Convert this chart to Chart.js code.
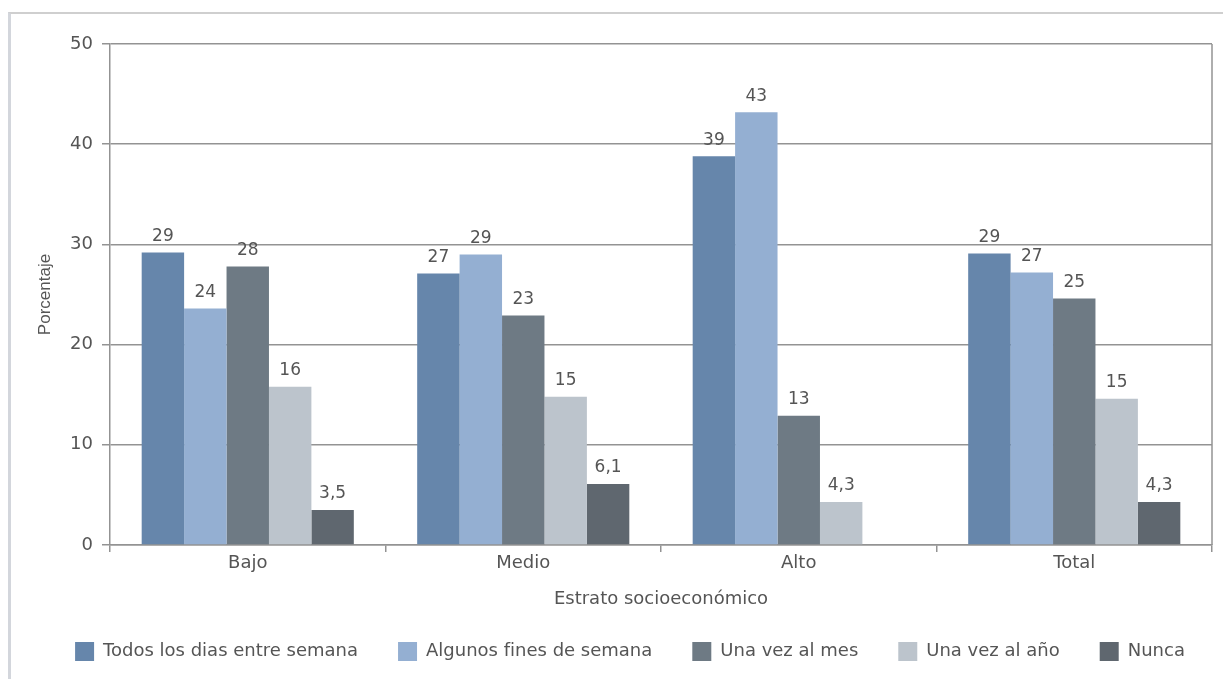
<!DOCTYPE html>
<html lang="es">
<head>
<meta charset="utf-8">
<title>Frecuencia según estrato socioeconómico</title>
<script src="https://cdn.jsdelivr.net/npm/chart.js@4.4.1/dist/chart.umd.min.js"></script>
<style>
  html, body { margin: 0; padding: 0; background: #fff; }
  #wrap { position: relative; width: 1223px; height: 679px; overflow: hidden; }
  #marco { position: absolute; left: 8px; top: 12px; right: -6px; bottom: -6px;
           border-top: 2px solid #cfcfcf; border-left: 3px solid #d3d6dc; }
  canvas { position: absolute; left: 0; top: 0; }
</style>
</head>
<body>
<div id="wrap">
  <div id="marco"></div>
  <canvas id="grafico" width="1223" height="679"></canvas>
</div>
<script>
// datos
const estratos = ['Bajo', 'Medio', 'Alto', 'Total'];
const nombresSeries = ['Todos los dias entre semana', 'Algunos fines de semana', 'Una vez al mes', 'Una vez al año', 'Nunca'];
const todosLosDias = [29.2, 27.1, 38.8, 29.1];
const finesDeSemana = [23.6, 29.0, 43.2, 27.2];
const vezAlMes = [27.8, 22.9, 12.9, 24.6];
const vezAlAno = [15.8, 14.8, 4.3, 14.6];
const nunca = [3.5, 6.1, null, 4.3];
const colores = ['#6686ab', '#94afd2', '#6e7a84', '#bcc4cc', '#5f676f'];
const ejeY = { min: 0, max: 50, paso: 10 };

const textoGris = '#555';
const lineaGris = '#939393';
const fuenteAncha = '"DejaVu Sans", Verdana, sans-serif';
const fuenteNormal = '"Liberation Sans", Arial, sans-serif';

Chart.defaults.font.family = fuenteAncha;

// 29.2 -> "29", 3.5 -> "3,5"
function formato(v) {
    if (v >= 10) return String(Math.round(v));
    return v.toFixed(1).replace('.', ',');
}

// valores encima de cada barra
const etiquetas = {
    id: 'etiquetas',
    afterDatasetsDraw(chart) {
        const ctx = chart.ctx;
        ctx.save();
        ctx.font = '17px ' + fuenteAncha;
        ctx.fillStyle = textoGris;
        ctx.textAlign = 'center';
        ctx.textBaseline = 'middle';
        chart.data.datasets.forEach((ds, i) => {
            chart.getDatasetMeta(i).data.forEach((bar, j) => {
                const v = ds.data[j];
                if (v == null) return;
                ctx.fillText(formato(v), bar.x, bar.y - 16);
            });
        });
        ctx.restore();
    }
};

// borde derecho del área y posición de la leyenda
const ajustes = {
    id: 'ajustes',
    afterLayout(chart) {
        // la leyenda del original está algo corrida a la derecha
        chart.legend.left += 24;
        chart.legend.right += 24;
        chart.legend.top -= 8;
    },
    beforeDatasetsDraw(chart) {
        const { ctx, chartArea: a } = chart;
        ctx.save();
        ctx.strokeStyle = lineaGris;
        ctx.lineWidth = 1.5;
        ctx.beginPath();
        ctx.moveTo(a.right, a.top);
        ctx.lineTo(a.right, a.bottom);
        ctx.stroke();
        ctx.restore();
    }
};

const series = [todosLosDias, finesDeSemana, vezAlMes, vezAlAno, nunca];

new Chart(document.getElementById('grafico'), {
    type: 'bar',
    data: {
        labels: estratos,
        datasets: series.map((valores, i) => ({
            label: nombresSeries[i],
            data: valores,
            backgroundColor: colores[i],
            borderWidth: 0,
            barPercentage: 1,
            categoryPercentage: 0.77
        }))
    },
    options: {
        responsive: false,
        animation: false,
        layout: { padding: { top: 44, right: 11, left: 0, bottom: 0 } },
        plugins: {
            tooltip: { enabled: false },
            legend: {
                position: 'bottom',
                labels: {
                    boxWidth: 19,
                    boxHeight: 19,
                    padding: 40,
                    color: textoGris,
                    font: { size: 18 }
                }
            }
        },
        scales: {
            x: {
                grid: { display: true, drawOnChartArea: false, tickLength: 7, color: lineaGris, lineWidth: 1.5 },
                border: { color: lineaGris, width: 1.5 },
                ticks: { color: textoGris, font: { size: 18 }, padding: 1 },
                title: {
                    display: true,
                    text: 'Estrato socioeconómico',
                    color: textoGris,
                    font: { size: 18 },
                    padding: { top: 0, bottom: 0 }
                },
                afterFit: s => { s.height = 65; }
            },
            y: {
                min: ejeY.min,
                max: ejeY.max,
                ticks: { stepSize: ejeY.paso, color: textoGris, font: { size: 18 }, padding: 9 },
                grid: { color: lineaGris, lineWidth: 1.5, tickLength: 8 },
                border: { color: lineaGris, width: 1.5 },
                title: {
                    display: true,
                    text: 'Porcentaje',
                    color: textoGris,
                    font: { size: 17, family: fuenteNormal },
                    padding: { top: 35, bottom: 0 }
                },
                afterFit: s => { s.width = 110; }
            }
        }
    },
    plugins: [etiquetas, ajustes]
});
</script>
</body>
</html>
